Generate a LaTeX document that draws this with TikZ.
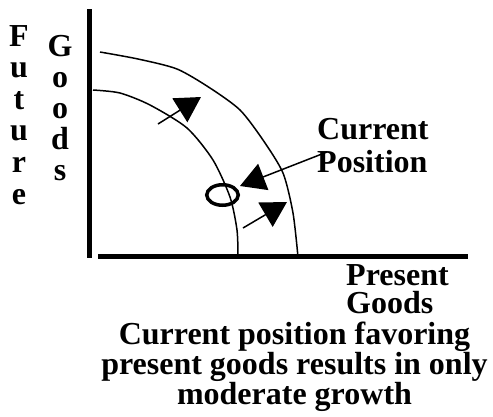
\documentclass[tikz,border=0pt]{standalone}
\usepackage{fontspec}
\setmainfont{Liberation Serif}
\usepackage{tikz}
\usetikzlibrary{arrows.meta,positioning,shapes.geometric}

\begin{document}
\begin{tikzpicture}[x=1pt,y=-1pt,
axis/.style={line width=5pt},
curve/.style={line width=1.5pt,smooth,tension=0.45},
arrow/.style={-{Triangle[length=25pt,width=28pt]},line width=1.5pt},
lbl/.style={inner sep=0pt,font=\bfseries\fontsize{32}{#1}\selectfont},
lbl/.default=30
]
\useasboundingbox (0,0) rectangle (493,416);
% axes
\coordinate (yTop) at (89.5,9);
\coordinate (yBot) at (89.5,258);
\coordinate (xLeft) at (98,256.5);
\coordinate (xRight) at (468,256.5);
\draw[axis] (yTop) -- (yBot);
\draw[axis] (xLeft) -- (xRight);
% production possibility curves
\draw[curve] plot coordinates {(100,52) (138,59) (177,69) (210,88) (240,110) (263,140) (283,173) (293,213) (298,257)};
\draw[curve] plot coordinates {(93,90) (120,93) (150,105) (187,128) (213,160) (230,197) (237,230) (238,257)};
% current position
\node[ellipse,draw,line width=3.5pt,minimum width=31.5pt,minimum height=20.5pt,inner sep=0pt] (curpos) at (222.5,195) {};
% labels
\node[lbl=31.6,align=center,anchor=north] (future) at (19,25) {F\\u\\t\\u\\r\\e};
\node[lbl=31,align=center,anchor=north] (goodsY) at (60,35) {G\\o\\o\\d\\s};
\node[lbl=33,align=left,anchor=north west] (curlbl) at (317,118) {Current\\Position};
\node[lbl=28,align=left,anchor=north west] (present) at (346,264) {Present\\Goods};
\node[lbl=30,align=center,anchor=north] (caption) at (294.5,322) {Current position favoring\\present goods results in only\\moderate growth};
% growth arrows
\coordinate (a1s) at (158,124);
\coordinate (a1e) at (201,97);
\coordinate (a2s) at (327,152);
\coordinate (a2e) at (240,186);
\coordinate (a3s) at (243,228);
\coordinate (a3e) at (287,202);
\draw[arrow] (a1s) -- (a1e);
\draw[arrow] (a2s) -- (a2e);
\draw[arrow] (a3s) -- (a3e);
\end{tikzpicture}
\end{document}
